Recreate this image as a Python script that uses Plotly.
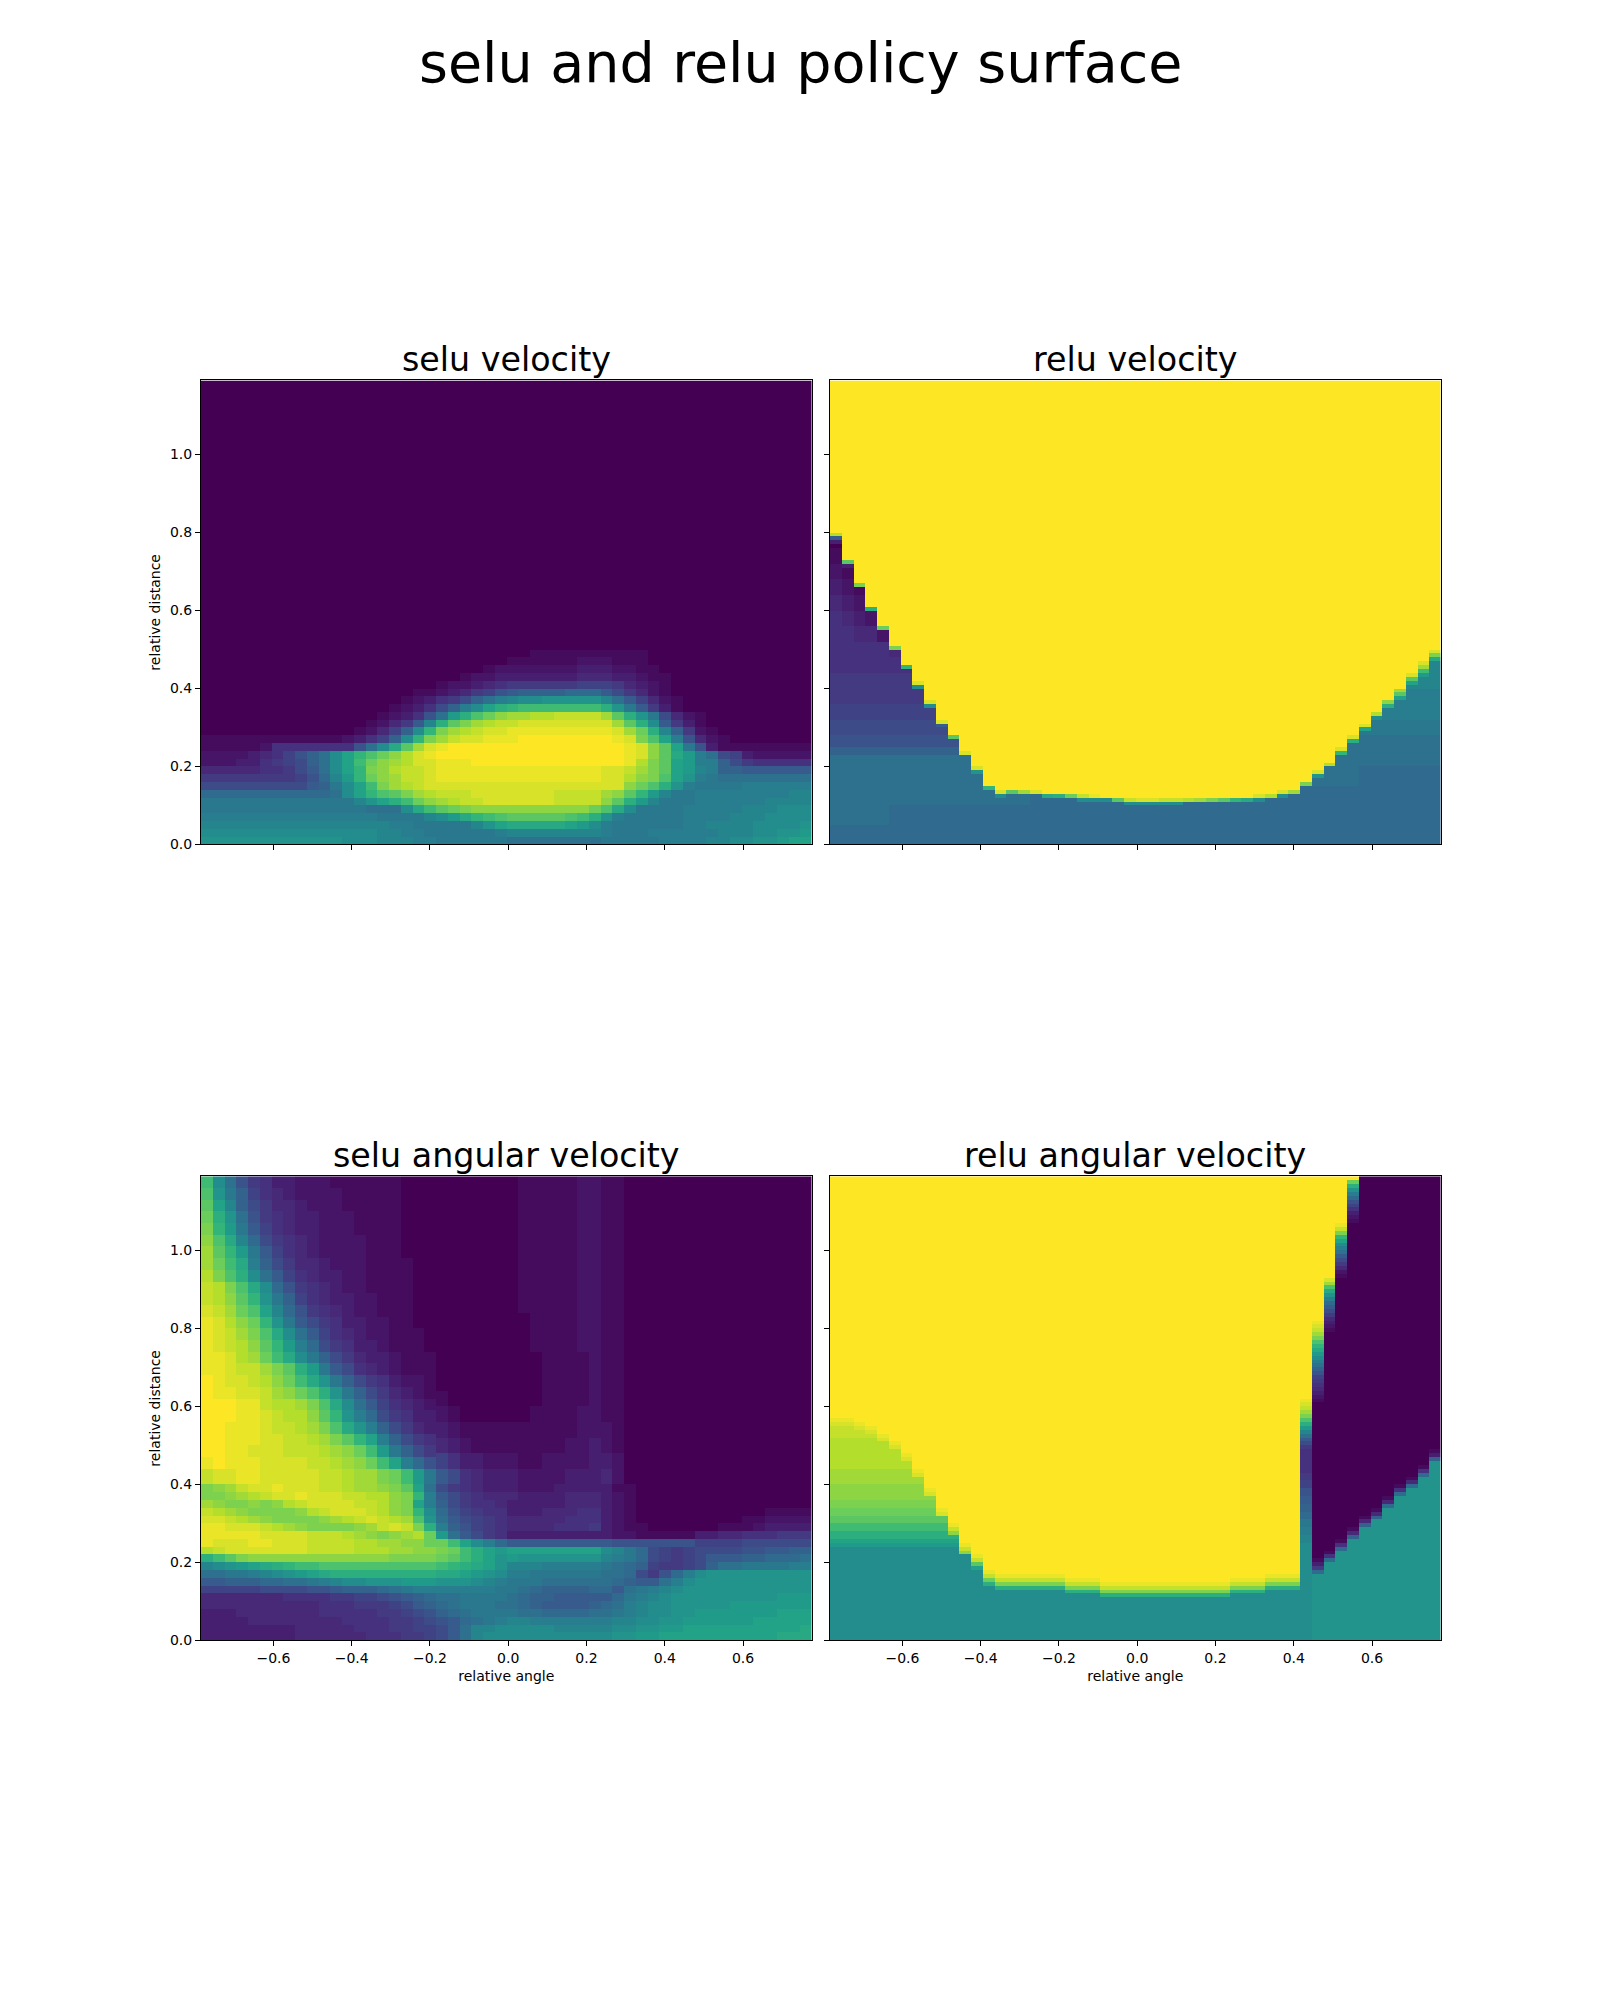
import plotly.graph_objects as go

TITLE = "selu and relu policy surface"
PANEL_TITLES = ["selu velocity", "relu velocity", "selu angular velocity", "relu angular velocity"]
X_TICKS = [-0.6, -0.4, -0.2, 0.0, 0.2, 0.4, 0.6]
Y_TICKS = [0.0, 0.2, 0.4, 0.6, 0.8, 1.0]
X_EDGES = [-0.785, -0.755, -0.725, -0.695, -0.665, -0.635, -0.605, -0.575, -0.545, -0.515,
           -0.485, -0.455, -0.425, -0.395, -0.365, -0.335, -0.305, -0.275, -0.245, -0.215,
           -0.185, -0.155, -0.125, -0.095, -0.065, -0.035, -0.005, 0.025, 0.055, 0.085,
           0.115, 0.145, 0.175, 0.205, 0.235, 0.265, 0.295, 0.325, 0.355, 0.385,
           0.415, 0.445, 0.475, 0.505, 0.535, 0.565, 0.595, 0.625, 0.655, 0.685,
           0.715, 0.745, 0.775]
N_ROWS = 119
N_COLS = 52
LEVELS = 35  # one base-36 character per cell, 0 = lowest, z = highest

# ---- selu velocity: rows from top to bottom, bands in hundredths of relative distance
selu_v_edges = [119, 50, 48, 46, 44, 42, 40, 38, 36, 34, 32, 30, 28, 26, 24, 22, 20, 18, 16, 14, 12, 10, 8, 6, 4, 2, 0]
selu_v_rows = [
    "0000000000 0000000000 0000000000 0000000000 000000000000",
    "0000000000 0000000000 0000000011 1111111100 000000000000",
    "0000000000 0000000000 0000001111 1122211100 000000000000",
    "0000000000 0000000000 0000122222 2233322110 000000000000",
    "0000000000 0000000000 0012233333 3344433211 000000000000",
    "0000000000 0000000000 1223456666 6677764321 000000000000",
    "0000000000 0000000011 234679abbb bccca86421 000000000000",
    "0000000000 0000000123 568bdfghhi iiiigda742 100000000000",
    "0000000000 0000001235 8bfhkmnooo oooomiea63 100000000000",
    "0000000000 0000012359 djmprtuuvv wwwwuqmie8 421000000000",
    "0000000000 00001246ag mqsuvwwxxx xxxxxuqmha 631000000000",
    "0000000000 0001247bhn suvwxxyyyy yyyyyxurmg b62100000000",
    "1111111111 112357bhns uwxxyyyzzz zzzzzyxspk f94210000000",
    "1111125555 5559dhlqux yzzzzzzzzz zzzzzzyxtq ke9311111111",
    "222234579b dhknprtvxy zzzzzzzzzz zzzzzzyxtq ljfd87322222",
    "222335678b dhkortuvxx yyyzzzzzzz zzzzzzyvsq kjffb8655555",
    "444445568a dhknstvwwx yyyyyyyyyy yyyyxxwusq kjgfbbaaaaaa",
    "6666666679 cgjnrtuwwx yyyyyyyyyy yyyyxxvtsp kifedddddddd",
    "888888888a behkosuvwx xxxxxxxxxx xxxxxxtrpm ifeeeeffffff",
    "cccccccccc cdhknpqsuv wwwxxxxxxx wwwwutqnjg eeffffffffgg",
    "eeeeeeeeee eeegikmort uvwwxxxxxx wwwwtqmjge eeffffffgggg",
    "eeeeeeeeee eeeedddhlo qrsttttttt tttrplheee efffffggghhh",
    "ffffffffff fffffeeeeg hjlnopqqqq qpomifeeee effffggghhhh",
    "gggggggggg ggggggffee eeegikllll lkjhfeeeee effgggghhhhi",
    "hhhhhhhhhh hhhhhggffe eeeeefgggg ggggfeeeff ffffggghhiij",
    "iiiiiiiiii iihhhgggff eeeeeedddd ddddeeeeef fffgghhiijkk",
]

# ---- relu velocity: levels under the surface, then the row where yellow starts per column
relu_v_edges = [119, 81, 76, 72, 68, 64, 60, 56, 52, 48, 44, 40, 36, 32, 28, 25, 23, 20, 15, 10, 5, 0]
relu_v_rows = [
    "zzzzzzzzzz zzzzzzzzzz zzzzzzzzzz zzzzzzzzzz zzzzzzzzzzzz",
    "0000000000 0000000000 0000000000 0000000000 000000000000",
    "1000000000 0000000000 0000000000 0000000000 000000000000",
    "2100000000 0000000000 0000000000 0000000000 000000000000",
    "3210000000 0000000000 0000000000 0000000000 000000000000",
    "4321000000 0000000000 0000000000 0000000000 000000000000",
    "5432100000 0000000000 0000000000 0000000000 000000000000",
    "5544210000 0000000000 0000000000 0000000000 000000000000",
    "5555543000 0000000000 0000000000 0000000000 00000000000h",
    "5555555400 0000000000 0000000000 0000000000 000000000ggg",
    "6666666655 5555555555 5555555555 5555555555 ffffffffffgg",
    "6666666666 6666666666 6666666666 6666666666 ffffffffffff",
    "7777777777 7777777777 7777777777 7777777777 eeeeeeefffff",
    "8888888888 8888888888 8888888888 8888888888 eeeeeeeeeeee",
    "9999999999 9999999999 9999999999 9999999999 dddddddddddd",
    "bbbbbbbbbb bbbbbbbbbb bbbbbbbbbb bbbbbbbbbb dddddddddddd",
    "dddddddddd dddddddddd dddddddddd dddddddddd dddddddddddd",
    "dddddddddd dddddddddd dddddddddd dddddddddd dddddccccccc",
    "dddddddddd dddddddccc cccccccccc cccccccccc cccccccccccc",
    "dddddccccc cccccccccc cccccccccc cccccccccc cccccccccccc",
    "cccccccccc cccccccccc cccccccccc cccccccccc cccccccccccc",
]
relu_v_start = [80, 73, 67, 61, 56, 51, 46, 42, 37, 32,
                28, 24, 20, 15, 14, 14, 14, 14, 13, 13,
                13, 13, 13, 12, 12, 12, 12, 12, 12, 12,
                12, 12, 12, 12, 12, 12, 13, 13, 14, 14,
                16, 19, 21, 25, 28, 31, 34, 37, 40, 44, 47, 50]
relu_v_fringe = [
    "vqsmrsnxxx qxxnxquxlm rwyhqwxxww vusqnlxvxu sxvxxxvtuxxx",
    "a3.....hha ..i.h..... .hh..hhhhh ......h.h. .i.nmkhmqqus",
    "3......... .......... .......... .......... .......fkkol",
    ".......... .......... .......... .......... .........gjg",
]

# ---- selu angular velocity
selu_w_edges = [119, 114, 109, 104, 99, 94, 89, 84, 79, 74, 69, 64, 60, 56, 52, 48, 44, 40,
                38, 36, 34, 32, 30, 28, 26, 24, 22, 20, 18, 16, 14, 12, 10, 8, 6, 4, 2, 0]
selu_w_rows = [
    "0000000000 0000000000 0000000111 1122110000 000000000000",
    "0000000000 0000000000 0000000111 1122110000 000000000000",
    "0000000000 0000000000 0000000111 1122110000 000000000000",
    "0000000000 0000000000 0000000111 1122110000 000000000000",
    "0000000000 0000000000 0000000111 1122110000 000000000000",
    "0000000000 0000000000 0000000111 1122110000 000000000000",
    "0000000000 0000000000 0000000111 1122110000 000000000000",
    "0000000000 0000000000 0000000011 1122110000 000000000000",
    "0000000000 0000000000 0000000011 1122110000 000000000000",
    "0000000000 0000000000 0000000001 1112110000 000000000000",
    "0000000000 0000000000 0000000001 1112110000 000000000000",
    "0000000000 0000000000 1000000001 1112110000 000000000000",
    "0000000000 0000000000 2100000011 1122110000 000000000000",
    "0000000000 0000000000 3211111111 1122210000 000000000000",
    "0000000000 0000000000 4321111111 1223210000 000000000000",
    "0000000000 0000000000 7533222112 2223320000 000000000000",
    "0000000000 0000000000 a854333222 2333420000 000000000000",
    "stuwxxyxxx wwvuutsqkd 8654333222 3333311000 000000000000",
    "sstuvwxxyx xxwwvvtsnf a865444333 3444321000 000000000000",
    "utsststvwx xxxwwvtskf b865543333 3444321000 000000000000",
    "wvutsssstv wxxxwvtsnh c976553334 4455321000 000000001111",
    "xxwvutssss tuvwxwvupi da87654444 4555321000 000000112222",
    "yyxxxwvuts ssstuwxwsm fb97654444 5556321100 000011123333",
    "yyyyyxxxxw wwvutstuvr jda8653333 3333322111 113344555666",
    "yxxxyyxxxw wwwvvuuttr rokhfcaaaa aaaaa99999 997777888888",
    "vwxxxxxxxw wwwvvvuutt sromkjkkkk kkkkhgec87 67888899aabb",
    "moqstttttt ttttttssss rqomkijiii iiiigfec87 678aaabbcccd",
    "ghijklmnoo pppppppppp onmlkigggf ffffedcb76 678bddeeeeff",
    "ddeefghijk lmmmmmmmmm llkjihffee eeeeddc869 cfhiiiiiiiii",
    "aabbbccdde fghhiiijjj iiihgfeeed dddddcbaad fhiiiiiiiiii",
    "7777788889 9abbbcdeff fffffeedcb bbbccadefg hiiiiiiiiiii",
    "4444444555 5667789abc ddeeeedcbb aaaaacefgh iiiiiiiiijjj",
    "4444444444 55566678ab cdeeeddcba aaabcdfghh iiiiijjjjjjj",
    "3334444444 5555566789 bcdeeeeddc cccddefghh iijjjjjjjkkk",
    "3333444444 4455556678 9acdefggff fffffgghhi ijjjjjjkkkkk",
    "3333333344 4445556677 8adgghhhhh ggggghhiij jkkkkkkkkkkl",
    "3333333344 4444555667 8adghhhhhh hhhhhiijjk kkkkkkkkklll",
]
# finer bands for the bright wedge: columns 0-19, above distance 0.40
selu_w_left_edges = [119, 116, 113, 110, 107, 104, 101, 98, 95, 92, 89, 86, 83, 80,
                     77, 74, 71, 68, 65, 62, 59, 56, 53, 50, 47, 44, 40]
selu_w_left_rows = [
    "ohd9653322 2111111000",
    "pieb754322 2211111000",
    "qkgb864432 2211111000",
    "rmid965433 2221111000",
    "snjea75433 2221111000",
    "tplgc86543 2222111000",
    "uqnjea7543 2222111000",
    "urolfb8644 3222111100",
    "vspmhda754 3322111100",
    "wvsplhc965 4322111100",
    "wvtqnieb75 4332211100",
    "xwurpkgc96 5432211100",
    "yxvtrniea8 6533221100",
    "yxwusplhda 7543221110",
    "yxwvtqnjfc 8653321110",
    "yyxvurolhe b864332111",
    "yyxwwusqmj ea85432111",
    "zyxxwvtrol ieb8653221",
    "zyyxxwutrp mieb864321",
    "zzzyywvvus plhda75432",
    "zzzyyxwvvt qnifc86533",
    "zzyyyxwwvu splifb8643",
    "zzyyyxxwwv usqnkfb865",
    "zzyyxxxwww vutrojeb86",
    "yzyyyxxxxw wvutrokfc9",
    "wxxyyxxxxx wwvuusroje",
]

# ---- relu angular velocity
# left block, columns 0-39: level per row from the bottom, yellow start and fringe per column
relu_w_left = "hhhhhhhhhhhhhhhhhhhhhhhhjkmmooqqrrssttttuuuuvvvvvvvvwwwwxxxx"
relu_w_start = [57, 57, 56, 55, 53, 51, 48, 44, 39, 34,
                30, 25, 22, 18, 17, 17, 17, 17, 17, 17,
                16, 16, 16, 15, 15, 15, 15, 15, 15, 15,
                15, 15, 15, 15, 16, 16, 16, 17, 17, 17]
relu_w_fringe = [
    "yyyyyyyyyy yyyyyyyyyy yyyyyyyyyy yyyyyyyyyy",
    "xxxxxxxxxx wwwwwwwwww wwwwwwwwww wwwwwwwwww",
    ".......... ttqrssssss ssssssssss ssssssssss",
    ".......... ..kmmmmmmm mmmmmmmmmm mmmmmmmmmm",
]
# right block, columns 40-51: full column, from the bottom; the last character repeats upward
relu_w_right = [
    "h" * 25 + "ggffeeccbbaa997766" + "5" * 6 + "68adgjmpsuwxyz",
    "i" * 17 + "c631" + "0" * 40 + "12345679bdfhjlnpsuwxyz",
    "i" * 20 + "c51" + "0" * 56 + "123468acfilpuxz",
    "i" * 23 + "c51" + "0" * 67 + "12468adfhknswyz",
    "i" * 26 + "b41" + "0" * 78 + "123579cfimrz",
    "i" * 29 + "b410",
    "i" * 31 + "b410",
    "i" * 34 + "c410",
    "i" * 37 + "c510",
    "i" * 39 + "c410",
    "i" * 42 + "c510",
    "i" * 46 + "b310",
]


def clean(text):
    text = text.replace(" ", "")
    return (text + text[-1] * N_COLS)[:N_COLS]


def from_bands(rows, edges):
    grid = [[0] * N_COLS for _ in range(N_ROWS)]
    for row, top, bottom in zip(rows, edges[:-1], edges[1:]):
        values = [int(ch, 36) for ch in clean(row)]
        for r in range(bottom, top):
            grid[r] = list(values)
    return grid


def apply_start(grid, start, fringe):
    fringe = [f.replace(" ", "") for f in fringe]
    for c, s in enumerate(start):
        for r in range(s, N_ROWS):
            grid[r][c] = LEVELS
        for k, line in enumerate(fringe):
            if line[c] != ".":
                grid[s - 1 - k][c] = int(line[c], 36)
    return grid


selu_v = from_bands(selu_v_rows, selu_v_edges)
relu_v = apply_start(from_bands(relu_v_rows, relu_v_edges), relu_v_start, relu_v_fringe)
selu_w = from_bands(selu_w_rows, selu_w_edges)
for row, top, bottom in zip(selu_w_left_rows, selu_w_left_edges[:-1], selu_w_left_edges[1:]):
    text = row.replace(" ", "")
    for r in range(bottom, top):
        for c, ch in enumerate(text[:20]):
            selu_w[r][c] = int(ch, 36)

relu_w = [[0] * N_COLS for _ in range(N_ROWS)]
for r, ch in enumerate(relu_w_left):
    for c in range(40):
        relu_w[r][c] = int(ch, 36)
apply_start(relu_w, relu_w_start, relu_w_fringe)
for i, col in enumerate(relu_w_right):
    col = (col + col[-1] * N_ROWS)[:N_ROWS]
    for r in range(N_ROWS):
        relu_w[r][40 + i] = int(col[r], 36)

Y_EDGES = [r / 100 for r in range(N_ROWS + 1)]
W, H = 1600, 2000
PANELS = [  # left, right, top, bottom in px
    (selu_v, 201, 811.5, 382, 847.6),
    (relu_v, 830, 1440.5, 382, 847.6),
    (selu_w, 201, 811.5, 1181, 1647),
    (relu_w, 830, 1440.5, 1181, 1647),
]

fig = go.Figure()
layout = {}
annotations = []
for i, (grid, l, r, t, b) in enumerate(PANELS):
    n = "" if i == 0 else str(i + 1)
    fig.add_trace(go.Heatmap(
        z=[[v / LEVELS for v in row] for row in grid],
        x=X_EDGES, y=Y_EDGES, zmin=0, zmax=1, colorscale="Viridis",
        showscale=False, xaxis="x" + n, yaxis="y" + n, hoverinfo="skip",
    ))
    axis = dict(showgrid=False, zeroline=False, showline=True, mirror=True, linecolor="black",
                linewidth=1.1, ticks="outside", ticklen=5, tickwidth=1.1, tickcolor="black",
                tickfont=dict(family="DejaVu Sans", size=14, color="black"))
    layout["xaxis" + n] = dict(
        axis, domain=[l / W, r / W], range=[X_EDGES[0], X_EDGES[-1]], anchor="y" + n,
        tickvals=X_TICKS, tickformat=".1f", showticklabels=i >= 2,
        title=dict(text="relative angle" if i >= 2 else "", standoff=5,
                   font=dict(family="DejaVu Sans", size=14, color="black")),
    )
    layout["yaxis" + n] = dict(
        axis, domain=[1 - b / H, 1 - t / H], range=[Y_EDGES[0], Y_EDGES[-1]], anchor="x" + n,
        tickvals=Y_TICKS, tickformat=".1f", showticklabels=i % 2 == 0,
        title=dict(text="relative distance" if i % 2 == 0 else "", standoff=5,
                   font=dict(family="DejaVu Sans", size=14, color="black")),
    )
    annotations.append(dict(text=PANEL_TITLES[i], xref="paper", yref="paper",
                            x=(l + r) / 2 / W, y=1 - (t + 1) / H, xanchor="center", yanchor="bottom",
                            showarrow=False, font=dict(family="DejaVu Sans", size=33.3, color="black")))
annotations.append(dict(text=TITLE, xref="paper", yref="paper", x=0.5, y=1 - 28 / H,
                        xanchor="center", yanchor="top", showarrow=False,
                        font=dict(family="DejaVu Sans", size=55.5, color="black")))

fig.update_layout(width=W, height=H, margin=dict(l=0, r=0, t=0, b=0), paper_bgcolor="white",
                  plot_bgcolor="white", annotations=annotations, **layout)
fig.write_html("out.html", config={"displayModeBar": False},
               post_script="document.body.style.margin='0';")
